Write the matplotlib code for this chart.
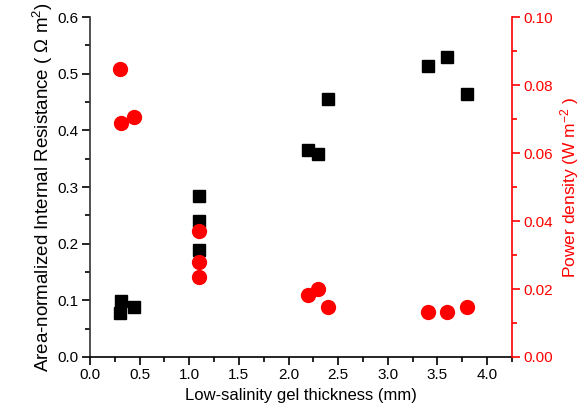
import matplotlib.pyplot as plt
from matplotlib.ticker import MultipleLocator

plt.rcParams['font.family'] = ['Liberation Sans', 'DejaVu Sans']
plt.rcParams['mathtext.default'] = 'regular'

# internal resistance (black squares)
res_x = [0.3, 0.31, 0.44, 1.1, 1.1, 1.1, 2.2, 2.3, 2.4, 3.4, 3.6, 3.8]
res_y = [0.078, 0.099, 0.088, 0.285, 0.240, 0.189, 0.365, 0.358, 0.456, 0.513, 0.529, 0.464]

# power density (red circles)
pow_x = [0.3, 0.31, 0.44, 1.1, 1.1, 1.1, 2.2, 2.3, 2.4, 3.4, 3.6, 3.8]
pow_y = [0.0847, 0.0688, 0.0706, 0.0371, 0.0279, 0.0236, 0.0181, 0.0201, 0.0146, 0.0131, 0.0131, 0.0148]

fig = plt.figure(figsize=(5.86, 4.18), dpi=100)
ax = fig.add_axes([0.1536, 0.146, 0.72, 0.813])
ax2 = ax.twinx()

ax.plot(res_x, res_y, 's', color='black', markersize=8.5, linestyle='none', zorder=3)
ax2.plot(pow_x, pow_y, 'o', color='red', markersize=10, linestyle='none', zorder=3)

ax.set_xlim(0, 4.25)
ax.set_ylim(0, 0.6)
ax2.set_ylim(0, 0.1)

ax.xaxis.set_major_locator(MultipleLocator(0.5))
ax.xaxis.set_minor_locator(MultipleLocator(0.25))
ax.yaxis.set_major_locator(MultipleLocator(0.1))
ax.yaxis.set_minor_locator(MultipleLocator(0.05))
ax2.yaxis.set_major_locator(MultipleLocator(0.02))
ax2.yaxis.set_minor_locator(MultipleLocator(0.01))
ax.xaxis.set_major_formatter('{x:.1f}')
ax.yaxis.set_major_formatter('{x:.1f}')
ax2.yaxis.set_major_formatter('{x:.2f}')

for a in (ax, ax2):
    a.spines['top'].set_visible(False)
    for s in a.spines.values():
        s.set_linewidth(1.2)
ax.spines['right'].set_visible(False)
ax.spines['left'].set_color('#333333')
ax2.spines['left'].set_visible(False)
ax2.spines['bottom'].set_visible(False)
ax2.spines['right'].set_color('red')

ax.tick_params(which='both', direction='out', labelsize=11, width=1.2, pad=2.5)
ax.tick_params(which='major', length=5.5)
ax.tick_params(which='minor', length=3.5)
ax2.tick_params(which='both', direction='out', labelsize=11, width=1.2,
                colors='red', pad=2.5)
ax2.tick_params(which='major', length=5.5)
ax2.tick_params(which='minor', length=3.5)

ax.set_xlabel('Low-salinity gel thickness (mm)', fontsize=12, labelpad=4)
ax.set_ylabel('Area-normalized Internal Resistance ( \u03a9 m$^2$)', fontsize=13.5, labelpad=2)
ax2.set_ylabel('Power density (W m$^{-2}$ )', fontsize=12.5, color='red', labelpad=4)

fig.savefig('out.png', dpi=100)
